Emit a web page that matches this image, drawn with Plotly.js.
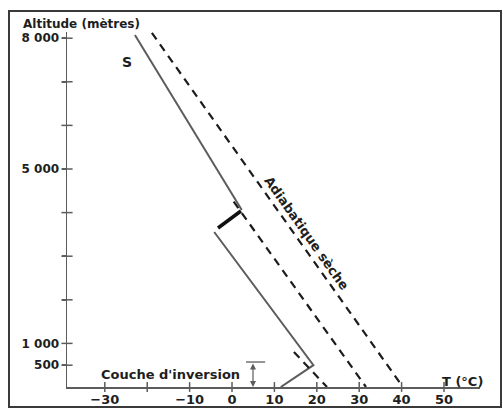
<!DOCTYPE html>
<html>
<head>
<meta charset="utf-8">
<script src="https://cdn.plot.ly/plotly-3.0.1.min.js"></script>
<style>
  html, body { margin: 0; padding: 0; background: #ffffff; }
  #chart { width: 503px; height: 412px; }
</style>
</head>
<body>
<div id="chart"></div>
<script>
// Temperature axis (°C) and altitude axis (m)
const tempTicks = [-30, -20, -10, 0, 10, 20, 30, 40, 50];
const tempTickText = ['\u221230', '', '\u221210', '0', '10', '20', '30', '40', '50'];
const altTicks = [500, 1000, 2000, 3000, 4000, 5000, 6000, 7000, 8000];
const altTickText = ['500', '1 000', '', '', '', '5 000', '', '', '8 000'];

// State curve S: upper part, offset step, lower part down through the inversion layer
const sUpperT = [-22.9, 2.3];
const sUpperZ = [8073, 4060];
const stepT = [2.1, -3.3];
const stepZ = [4037, 3647];
const sLowerT = [-4.2, 19.2, 11.5];
const sLowerZ = [3555, 500, 0];

// Dry adiabats (dashed)
const adiabatAT = [-18.9, 40.3];
const adiabatAZ = [8120, 0];
const adiabatBT = [0.4, 31.6];
const adiabatBZ = [4250, 0];
const adiabatCT = [14.6, 22.4];
const adiabatCZ = [803, 0];

// Inversion layer thickness marker
const inversionT = 4.95;
const inversionTop = 573;
const inversionBarT = [3.3, 7.8];

const xRange = [-38.92, 58.49];
const yRange = [0, 8142];

const W = 503, H = 412;
const M = { l: 67, r: 23, t: 32, b: 25 };
const PW = W - M.l - M.r, PH = H - M.t - M.b;
const px = x => (x - M.l) / PW;
const py = y => (H - M.b - y) / PH;

const font = (size, color) => ({ family: 'DejaVu Sans', size: size, color: color || '#1e1e1e', weight: 'bold' });

const grey = '#5c5c5c';
const ink = '#1c1c1c';

const traces = [
  { x: sUpperT, y: sUpperZ, mode: 'lines', line: { color: grey, width: 2 }, hoverinfo: 'skip' },
  { x: sLowerT, y: sLowerZ, mode: 'lines', line: { color: grey, width: 2 }, hoverinfo: 'skip' },
  { x: stepT, y: stepZ, mode: 'lines', line: { color: '#111', width: 3.5 }, hoverinfo: 'skip' },
  { x: adiabatAT, y: adiabatAZ, mode: 'lines', line: { color: ink, width: 2.2, dash: '8px,6px' }, hoverinfo: 'skip' },
  { x: adiabatBT, y: adiabatBZ, mode: 'lines', line: { color: ink, width: 2.2, dash: '8px,6px' }, hoverinfo: 'skip' },
  { x: adiabatCT, y: adiabatCZ, mode: 'lines', line: { color: ink, width: 2.2, dash: '8px,6px' }, hoverinfo: 'skip' },
  // tick marks crossing the axes
  { x: tempTicks, y: tempTicks.map(() => 0), mode: 'markers', cliponaxis: false,
    marker: { symbol: 'line-ns', size: 7, line: { color: grey, width: 1.5 } }, hoverinfo: 'skip' },
  { x: altTicks.map(() => xRange[0]), y: altTicks, mode: 'markers', cliponaxis: false,
    marker: { symbol: 'line-ew', size: 8, line: { color: grey, width: 1.5 } }, hoverinfo: 'skip' },
  { x: inversionBarT, y: inversionBarT.map(() => inversionTop), mode: 'lines', cliponaxis: false,
    line: { color: grey, width: 1.3 }, hoverinfo: 'skip' }
];

const axisCommon = {
  showgrid: false, zeroline: false, showline: true, linecolor: grey, linewidth: 1.5,
  tickcolor: grey, tickwidth: 1.5,
  fixedrange: true
};

const layout = {
  width: W, height: H,
  margin: M,
  paper_bgcolor: '#ffffff', plot_bgcolor: '#ffffff',
  showlegend: false,
  xaxis: Object.assign({}, axisCommon, {
    range: xRange, tickvals: tempTicks, ticktext: tempTickText,
    ticks: '', tickfont: font(13)
  }),
  yaxis: Object.assign({}, axisCommon, {
    range: yRange, tickvals: altTicks, ticktext: altTickText,
    ticks: 'outside', ticklen: 4, tickfont: font(12)
  }),
  shapes: [
    { type: 'rect', xref: 'paper', yref: 'paper',
      x0: px(9), x1: px(501), y0: py(407), y1: py(11),
      line: { color: '#3a3a3a', width: 2 } }
  ],
  annotations: [
    { xref: 'paper', yref: 'paper', x: px(21), y: py(24), xanchor: 'left', yanchor: 'middle',
      text: 'Altitude (mètres)', showarrow: false, font: font(12) },
    { xref: 'paper', yref: 'paper', x: px(127), y: py(62), xanchor: 'center', yanchor: 'middle',
      text: 'S', showarrow: false, font: font(14) },
    { xref: 'paper', yref: 'paper', x: px(307), y: py(233), xanchor: 'center', yanchor: 'middle',
      text: 'Adiabatique sèche', textangle: 54.7, showarrow: false, font: font(13) },
    { xref: 'paper', yref: 'paper', x: px(170), y: py(374), xanchor: 'center', yanchor: 'middle',
      text: "Couche d'inversion", showarrow: false, font: font(13) },
    { xref: 'paper', yref: 'paper', x: px(462), y: py(381), xanchor: 'center', yanchor: 'middle',
      text: 'T (°C)', showarrow: false, font: font(13) },
    { xref: 'x', yref: 'y', x: inversionT, y: 0, axref: 'x', ayref: 'y', ax: inversionT, ay: inversionTop,
      text: '', showarrow: true, arrowside: 'end+start', arrowhead: 2, arrowsize: 1, arrowwidth: 1.2,
      arrowcolor: grey, standoff: 0, startstandoff: 0 }
  ]
};

Plotly.newPlot('chart', traces, layout, { staticPlot: true, displayModeBar: false });
</script>
</body>
</html>
